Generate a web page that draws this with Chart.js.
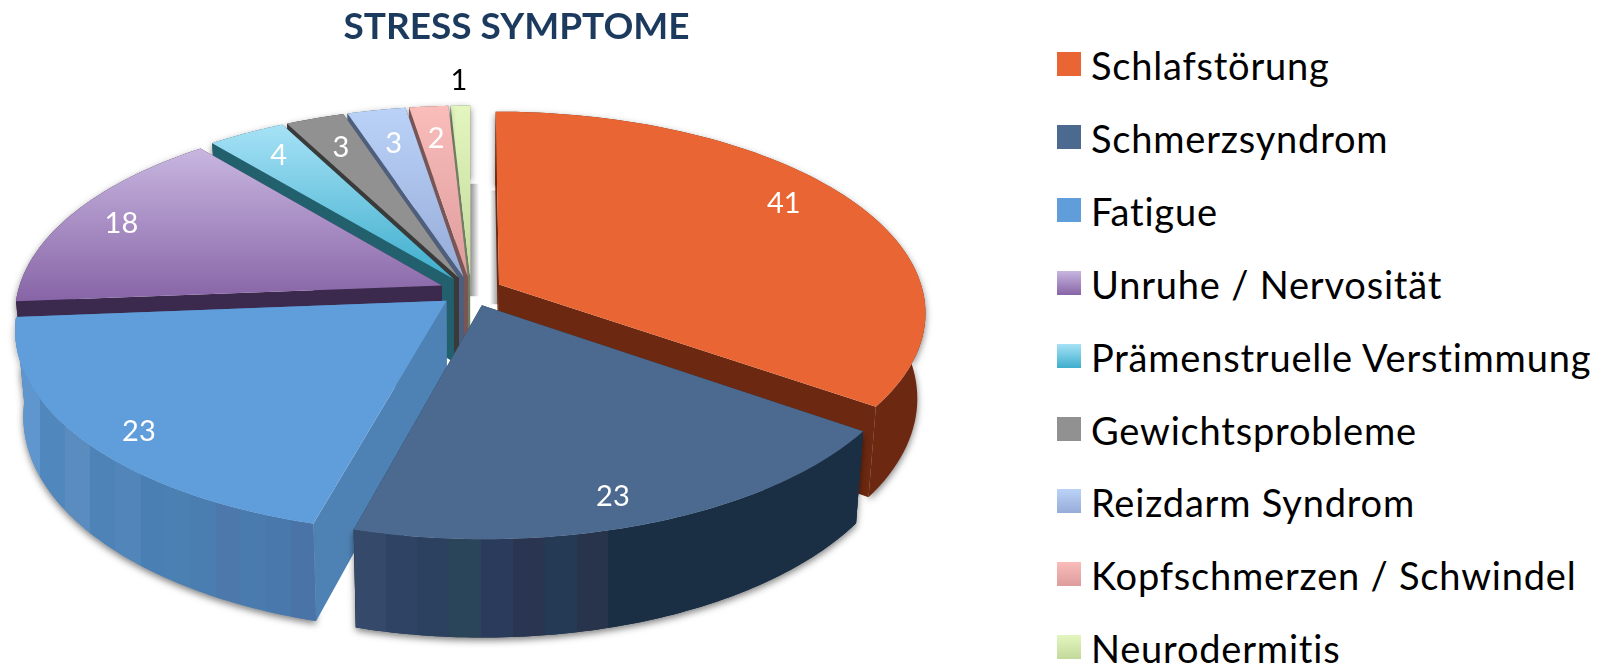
<!DOCTYPE html>
<html lang="de">
<head>
<meta charset="utf-8">
<title>Stress Symptome</title>
<script src="https://cdn.jsdelivr.net/npm/chart.js@4"></script>
<style>
    html, body { margin: 0; padding: 0; background: #fff; }
    #wrap { position: relative; width: 1618px; height: 666px; overflow: hidden; }
    #pie { position: absolute; left: 0; top: 0; }
    .legend-row { position: absolute; left: 1057px; height: 24px; white-space: nowrap; }
    .legend-box { position: absolute; left: 0; top: 0; width: 24px; height: 24px; }
    .legend-text {
        position: absolute; left: 34px; top: -11px; line-height: 48px;
        font-family: Lato, sans-serif; font-size: 38px; letter-spacing: 0.8px; color: #000;
    }
</style>
</head>
<body>
<div id="wrap">
    <canvas id="pie" width="1033" height="666"></canvas>
</div>
<script>
const categories = ['Schlafstörung', 'Schmerzsyndrom', 'Fatigue', 'Unruhe / Nervosität', 'Prämenstruelle Verstimmung', 'Gewichtsprobleme', 'Reizdarm Syndrom', 'Kopfschmerzen / Schwindel', 'Neurodermitis'];
const values = [41, 23, 23, 18, 4, 3, 3, 2, 1];

// top face colours (gradient from back to front)
const topColors = [
    ['#E96634', '#E96634'], ['#4C6A90', '#4C6A90'], ['#5F9DDB', '#5F9DDB'],
    ['#C8B6E0', '#8764A6'], ['#A6E2F6', '#3EAECD'], ['#919191', '#919191'],
    ['#BBD2F8', '#96ACD8'], ['#FABDBA', '#DC9C9C'], ['#E3F6BF', '#C3D99A']
];
const wallColors = ['#6C2810', '#1A2E44', '#4F82B4', '#3C2A4E', '#22606E', '#3A3A3A', '#4D5F7D', '#7A5555', '#6F8060'];
const fatigueBands = ['#5F96CE', '#5087BC', '#5A8CC0', '#4E83B8', '#5286BA', '#4A7FB3', '#4B80B3', '#4A7DB0', '#4C78AB', '#4A7BAE', '#4878AC', '#4A74A8'];
const schmerzBands = ['#35496A', '#2F4464', '#2C4060', '#2A4459', '#2B3B5C', '#2A3552', '#253A55', '#27344C', '#1A2E44', '#1A2E44', '#1A2E44', '#1A2E44', '#1A2E44', '#1A2E44', '#1A2E44', '#1A2E44'];
const labelColors = ['#fff', '#fff', '#fff', '#fff', '#fff', '#fff', '#fff', '#fff', '#000'];
const labelRadius = [0.84, 0.88, 0.89, 0.86, 0.83, 0.80, 0.78, 0.79, 1.17];
const labelTurn = [0.47, 0.53, 0.46, 0.49, 0.5, 0.5, 0.5, 0.5, 0.5]; // where across the slice the label sits
const drawOrder = [8, 7, 6, 5, 4, 3, 0, 2, 1]; // back to front

// perspective of the tilted pie
const RX = 424, RY = 198, TILT = 0.136, DEPTH = 84, BOTTOM_SHRINK = 0.018, SHIFT_X = -45.5;

function project(pie, u, v, drop) {
    const w = 1 / (1 - TILT * v);
    const shrink = 1 - BOTTOM_SHRINK * drop / DEPTH;
    return [pie.x + SHIFT_X + u * RX * w * shrink, pie.y + v * RY * w + drop * w];
}

function tracePoly(ctx, pts) {
    ctx.beginPath();
    pts.forEach((p, i) => i ? ctx.lineTo(p[0], p[1]) : ctx.moveTo(p[0], p[1]));
    ctx.closePath();
}

function bandGradient(ctx, x0, x1, bands) {
    const g = ctx.createLinearGradient(x0, 0, x1, 0);
    bands.forEach((c, i) => {
        g.addColorStop(i / bands.length, c);
        g.addColorStop((i + 1) / bands.length, c);
    });
    return g;
}

// geometry of one slice, angles and radius come from the chart's arc element
function sliceGeometry(arc) {
    const pie = arc.getProps(['x', 'y', 'startAngle', 'endAngle', 'outerRadius'], true);
    const mid = (pie.startAngle + pie.endAngle) / 2;
    const off = arc.options.offset / pie.outerRadius;
    const ou = Math.cos(mid) * off, ov = Math.sin(mid) * off;
    const arcPts = [];
    for (let i = 0; i <= 80; i++) {
        const a = pie.startAngle + (pie.endAngle - pie.startAngle) * i / 80;
        arcPts.push([ou + Math.cos(a), ov + Math.sin(a)]);
    }
    return { pie, mid, off, ou, ov, arcPts };
}

const tiltedPie = {
    id: 'tiltedPie',
    beforeDatasetsDraw(chart) {
        const ctx = chart.ctx;
        const arcs = chart.getDatasetMeta(0).data;
        const geo = arcs.map(sliceGeometry);
        ctx.save();

        // grey cast shadows in the gap behind the first and last slice
        [[8, 'endAngle', 1], [0, 'startAngle', -1]].forEach(([i, key, dir]) => {
            const s = geo[i];
            const a = s.pie[key];
            const inner = project(s.pie, s.ou, s.ov, 20);
            const outer = project(s.pie, s.ou + Math.cos(a) * 0.62, s.ov + Math.sin(a) * 0.62, 20);
            const g = ctx.createLinearGradient(inner[0], 0, inner[0] + dir * 9, 0);
            g.addColorStop(0, '#8f8f8f');
            g.addColorStop(1, '#ffffff');
            ctx.fillStyle = g;
            tracePoly(ctx, [inner, outer, [outer[0] + dir * 9, outer[1]], [inner[0] + dir * 9, inner[1]]]);
            ctx.fill();
        });

        drawOrder.forEach(i => {
            const s = geo[i];
            const top = s.arcPts.map(p => project(s.pie, p[0], p[1], 0));
            const low = s.arcPts.map(p => project(s.pie, p[0], p[1], DEPTH));
            const apexTop = project(s.pie, s.ou, s.ov, 0);
            const apexLow = project(s.pie, s.ou, s.ov, DEPTH);
            const rim = top.concat(low.slice().reverse());
            const xs = rim.map(p => p[0]);
            const x0 = Math.min(...xs), x1 = Math.max(...xs);

            // rim with soft drop shadow
            ctx.save();
            ctx.shadowColor = 'rgba(0,0,0,0.5)';
            ctx.shadowBlur = 7;
            ctx.shadowOffsetY = 3;
            ctx.fillStyle = wallColors[i];
            tracePoly(ctx, rim);
            ctx.fill();
            ctx.restore();

            // straight side walls
            ctx.fillStyle = wallColors[i];
            [top[0], top[top.length - 1]].forEach((p, k) => {
                const q = k ? low[low.length - 1] : low[0];
                tracePoly(ctx, [apexTop, p, q, apexLow]);
                ctx.fill();
            });

            // banded outside wall
            if (i === 1 || i === 2) {
                ctx.fillStyle = bandGradient(ctx, x0, x1, i === 1 ? schmerzBands : fatigueBands);
                tracePoly(ctx, rim);
                ctx.fill();
            }

            // top face
            const outline = [apexTop].concat(top);
            const ys = outline.map(p => p[1]);
            const g = ctx.createLinearGradient(0, Math.min(...ys), 0, Math.max(...ys));
            g.addColorStop(0, topColors[i][0]);
            g.addColorStop(1, topColors[i][1]);
            ctx.fillStyle = g;
            tracePoly(ctx, outline);
            ctx.fill();
        });

        // value labels
        ctx.font = '29px Lato, sans-serif';
        ctx.textAlign = 'center';
        ctx.textBaseline = 'middle';
        geo.forEach((s, i) => {
            const r = labelRadius[i];
            const a = s.pie.startAngle + (s.pie.endAngle - s.pie.startAngle) * labelTurn[i];
            const p = project(s.pie, s.ou + Math.cos(a) * r, s.ov + Math.sin(a) * r, 0);
            ctx.fillStyle = labelColors[i];
            ctx.fillText(String(values[i]), p[0], p[1]);
        });
        ctx.restore();
        return false; // slices are painted above, skip the flat pie
    }
};

new Chart(document.getElementById('pie').getContext('2d'), {
    type: 'pie',
    data: {
        labels: categories,
        datasets: [{
            data: values,
            backgroundColor: topColors.map(c => c[0]),
            offset: 17,
            borderWidth: 0
        }]
    },
    plugins: [tiltedPie],
    options: {
        responsive: false,
        animation: false,
        layout: { padding: { left: 0, right: 0, top: 0, bottom: 139 } },
        plugins: {
            legend: { display: false },
            tooltip: { enabled: false },
            title: {
                display: true,
                text: 'STRESS SYMPTOME',
                color: '#1B3A5E',
                font: { family: 'Lato, sans-serif', size: 37, weight: 'bold' },
                padding: { top: 5, bottom: 6 }
            }
        }
    }
});

// legend on the right, same order as the slices
const wrap = document.getElementById('wrap');
categories.forEach((name, i) => {
    const row = document.createElement('div');
    row.className = 'legend-row';
    row.style.top = (52 + i * 72.9) + 'px';
    const box = document.createElement('div');
    box.className = 'legend-box';
    box.style.background = 'linear-gradient(' + topColors[i][0] + ',' + topColors[i][1] + ')';
    const text = document.createElement('div');
    text.className = 'legend-text';
    text.textContent = name;
    row.appendChild(box);
    row.appendChild(text);
    wrap.appendChild(row);
});
</script>
</body>
</html>
